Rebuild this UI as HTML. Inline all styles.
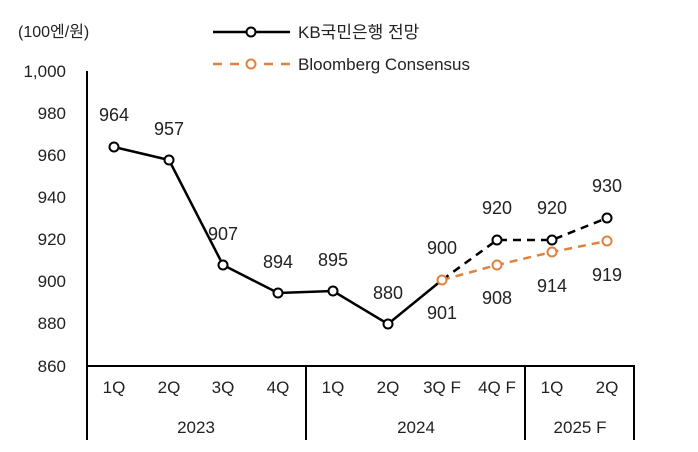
<!DOCTYPE html><html><head><meta charset="utf-8"><style>body{margin:0;background:#fff}svg{display:block;font-family:"Liberation Sans","Noto Sans CJK KR",sans-serif}</style></head><body>
<svg width="698" height="452" viewBox="0 0 698 452">
<g font-size="17" fill="#222">
<text x="18" y="37" font-size="16">(100엔/원)</text>
<g text-anchor="end">
<text x="66" y="77">1,000</text><text x="66" y="119">980</text><text x="66" y="161">960</text><text x="66" y="203">940</text><text x="66" y="245">920</text><text x="66" y="287">900</text><text x="66" y="329">880</text><text x="66" y="372">860</text>
</g></g>
<g stroke="#000" stroke-width="2" fill="none">
<line x1="87" y1="71" x2="87" y2="440"/>
<line x1="86" y1="366" x2="635" y2="366"/>
<line x1="306" y1="366" x2="306" y2="440"/>
<line x1="525" y1="366" x2="525" y2="440"/>
<line x1="634" y1="366" x2="634" y2="440"/>
</g>
<g font-size="17" fill="#222" text-anchor="middle">
<text x="114" y="393">1Q</text><text x="169" y="393">2Q</text><text x="223" y="393">3Q</text><text x="278" y="393">4Q</text><text x="333" y="393">1Q</text><text x="388" y="393">2Q</text><text x="442" y="393">3Q F</text><text x="497" y="393">4Q F</text><text x="552" y="393">1Q</text><text x="607" y="393">2Q</text>
<text x="196" y="433">2023</text><text x="416" y="433">2024</text><text x="580" y="433">2025 F</text>
</g>
<polyline points="442,280 497,265 552,252 607,241" fill="none" stroke="#E0823F" stroke-width="2.5" stroke-dasharray="8,6"/>
<polyline points="442,280 497,240 552,240 607,218" fill="none" stroke="#000" stroke-width="2.5" stroke-dasharray="8,6"/>
<polyline points="114,147 169,160 223,265 278,293 333,291 388,324 442,280" fill="none" stroke="#000" stroke-width="2.5"/>
<g fill="#fff" stroke="#000" stroke-width="2">
<circle cx="114" cy="147" r="4.5"/><circle cx="169" cy="160" r="4.5"/><circle cx="223" cy="265" r="4.5"/><circle cx="278" cy="293" r="4.5"/><circle cx="333" cy="291" r="4.5"/><circle cx="388" cy="324" r="4.5"/><circle cx="497" cy="240" r="4.5"/><circle cx="552" cy="240" r="4.5"/><circle cx="607" cy="218" r="4.5"/>
</g>
<g fill="#fff" stroke="#E0823F" stroke-width="2">
<circle cx="442" cy="280" r="4.5"/><circle cx="497" cy="265" r="4.5"/><circle cx="552" cy="252" r="4.5"/><circle cx="607" cy="241" r="4.5"/>
</g>
<g font-size="18" fill="#222" text-anchor="middle">
<text x="114" y="121">964</text><text x="169" y="135">957</text><text x="223" y="240">907</text><text x="278" y="268">894</text><text x="333" y="266">895</text><text x="388" y="299">880</text><text x="442" y="254">900</text><text x="497" y="214">920</text><text x="552" y="214">920</text><text x="607" y="192">930</text>
<text x="442" y="319">901</text><text x="497" y="304">908</text><text x="552" y="292">914</text><text x="607" y="281">919</text>
</g>
<line x1="213" y1="32" x2="290" y2="32" stroke="#000" stroke-width="2.5"/>
<circle cx="251" cy="32" r="4.5" fill="#fff" stroke="#000" stroke-width="2"/>
<line x1="213" y1="64" x2="290" y2="64" stroke="#E0823F" stroke-width="2.5" stroke-dasharray="9,8"/>
<circle cx="251" cy="64" r="4.5" fill="#fff" stroke="#E0823F" stroke-width="2"/>
<g font-size="17" fill="#222"><text x="298" y="38">KB국민은행 전망</text><text x="298" y="70">Bloomberg Consensus</text></g>
</svg></body></html>
